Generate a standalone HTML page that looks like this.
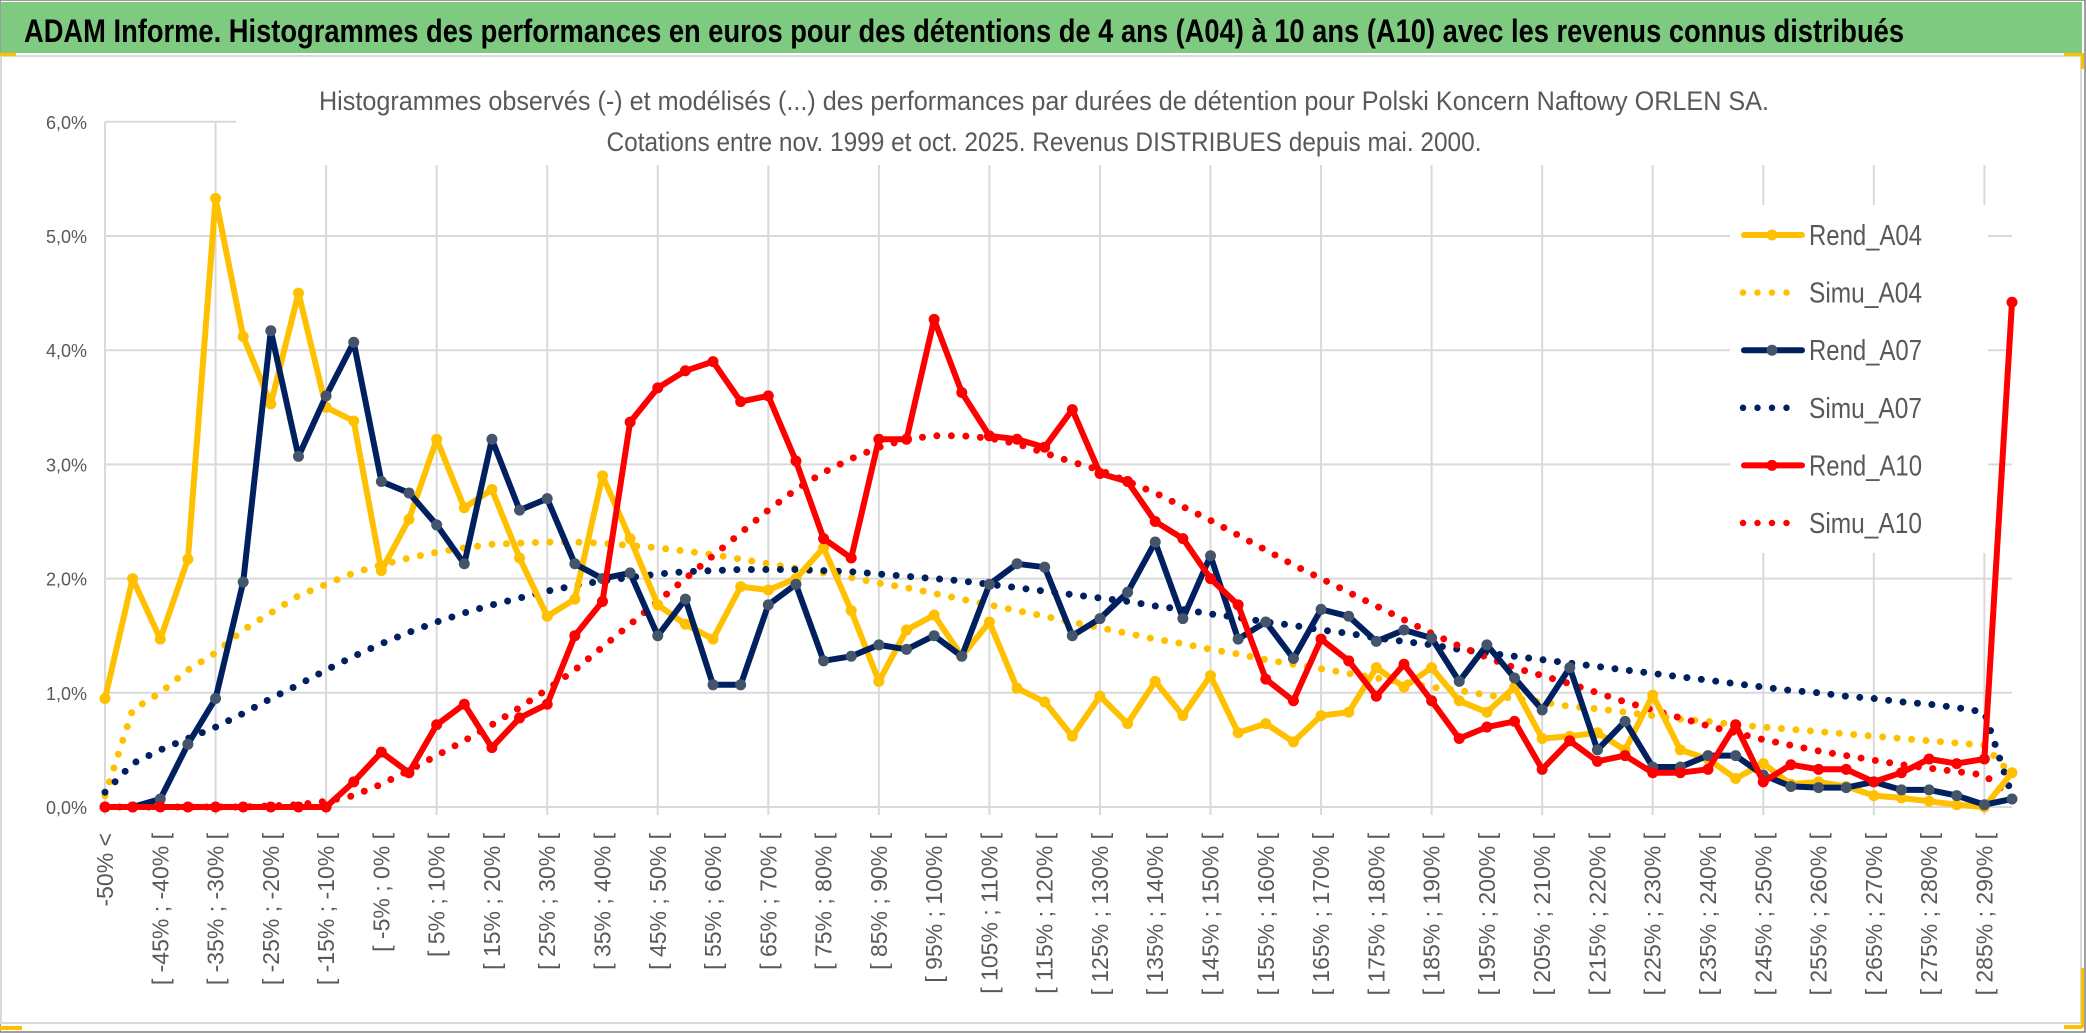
<!DOCTYPE html>
<html><head><meta charset="utf-8">
<style>
html,body{margin:0;padding:0;background:#fff;}
svg{display:block;}
text{font-family:"Liberation Sans Narrow","Liberation Sans",sans-serif;}
</style></head>
<body>
<svg id="chart" width="2086" height="1033" viewBox="0 0 2086 1033" xmlns="http://www.w3.org/2000/svg">
  <rect x="0" y="0" width="2086" height="1033" fill="#fff"/>
  <rect x="0" y="0" width="2085" height="1032" fill="none" stroke="#7f7f7f" stroke-width="1.5"/>
  <rect x="1" y="2" width="2081" height="51" fill="#7ECA80"/>
  <text x="24" y="42" font-size="32" font-weight="bold" fill="#000" textLength="1880" lengthAdjust="spacingAndGlyphs">ADAM Informe. Histogrammes des performances en euros pour des détentions de 4 ans (A04) à 10 ans (A10) avec les revenus connus distribués</text>
  <rect x="1" y="56" width="2080" height="967" fill="none" stroke="#d9d9d9" stroke-width="2"/>
  <rect x="0" y="53" width="16" height="3" fill="#FFC000"/>
  <rect x="2064" y="53" width="18" height="3" fill="#FFC000"/>
  <rect x="2081" y="53" width="3" height="16" fill="#FFC000"/>
  <rect x="2064" y="1025" width="18" height="4" fill="#FFC000"/>
  <rect x="2081" y="968" width="3" height="60" fill="#FFC000"/>
  <rect x="0" y="1026" width="22" height="4" fill="#FFC000"/>
  <g id="grid"></g>
  <rect x="236" y="60" width="1790" height="105" fill="#fff"/>
  <text x="1044" y="110" font-size="27" fill="#595959" text-anchor="middle" textLength="1450" lengthAdjust="spacingAndGlyphs">Histogrammes observés (-) et modélisés (...) des performances par durées de détention pour Polski Koncern Naftowy ORLEN SA.</text>
  <text x="1044" y="151" font-size="27" fill="#595959" text-anchor="middle" textLength="875" lengthAdjust="spacingAndGlyphs">Cotations entre nov. 1999 et oct. 2025. Revenus DISTRIBUES depuis mai. 2000.</text>
  <g id="yaxis"></g>
  <g id="xaxis"></g>
  <g id="series"></g>
  <g id="legend"></g>
</svg>
<script>
const categories = ["-50% <"];
for (let k = 1; k < 70; k++) { const lo = -55 + 5 * k; categories.push("[ " + lo + "% ; " + (lo + 5) + "% ["); }
const yTicks = [0, 1, 2, 3, 4, 5, 6];
const yTickLabels = ["0,0%", "1,0%", "2,0%", "3,0%", "4,0%", "5,0%", "6,0%"];
const rendA04 = [0.95,2.0,1.47,2.17,5.33,4.12,3.53,4.5,3.5,3.38,2.07,2.52,3.22,2.62,2.78,2.18,1.67,1.82,2.9,2.35,1.77,1.6,1.47,1.93,1.9,2.0,2.27,1.72,1.1,1.55,1.68,1.32,1.62,1.04,0.92,0.62,0.97,0.73,1.1,0.8,1.15,0.65,0.73,0.57,0.8,0.83,1.22,1.05,1.22,0.93,0.83,1.05,0.6,0.62,0.65,0.5,0.98,0.5,0.42,0.25,0.38,0.2,0.22,0.18,0.1,0.08,0.05,0.02,0.0,0.3];
const simuA04 = [0.1,0.85,1.0,1.2,1.35,1.55,1.7,1.85,1.95,2.05,2.12,2.18,2.23,2.27,2.3,2.31,2.32,2.32,2.31,2.29,2.27,2.24,2.21,2.17,2.13,2.09,2.05,2.01,1.96,1.92,1.87,1.82,1.77,1.72,1.67,1.62,1.57,1.52,1.47,1.43,1.38,1.34,1.29,1.25,1.21,1.17,1.13,1.09,1.05,1.02,0.98,0.95,0.92,0.88,0.86,0.83,0.8,0.77,0.75,0.72,0.7,0.68,0.66,0.64,0.62,0.6,0.58,0.56,0.54,0.28];
const rendA07 = [0,0,0.07,0.55,0.95,1.97,4.17,3.07,3.6,4.07,2.85,2.75,2.47,2.13,3.22,2.6,2.7,2.13,2.0,2.05,1.5,1.82,1.07,1.07,1.77,1.95,1.28,1.32,1.42,1.38,1.5,1.32,1.95,2.13,2.1,1.5,1.65,1.88,2.32,1.65,2.2,1.47,1.62,1.3,1.73,1.67,1.45,1.55,1.48,1.1,1.42,1.13,0.85,1.22,0.5,0.75,0.35,0.35,0.45,0.45,0.28,0.18,0.17,0.17,0.22,0.15,0.15,0.1,0.02,0.07];
const simuA07 = [0.13,0.38,0.5,0.6,0.7,0.82,0.95,1.07,1.2,1.32,1.43,1.53,1.62,1.7,1.77,1.83,1.89,1.94,1.98,2.01,2.04,2.06,2.07,2.08,2.08,2.08,2.07,2.06,2.04,2.02,2.0,1.98,1.95,1.92,1.89,1.86,1.83,1.8,1.76,1.73,1.69,1.66,1.62,1.59,1.55,1.52,1.48,1.45,1.42,1.38,1.35,1.32,1.29,1.26,1.23,1.2,1.17,1.14,1.11,1.08,1.05,1.02,1.0,0.97,0.95,0.92,0.9,0.87,0.83,0.1];
const rendA10 = [0,0,0,0,0,0,0,0,0,0.22,0.48,0.3,0.72,0.9,0.52,0.78,0.9,1.5,1.8,3.37,3.67,3.82,3.9,3.55,3.6,3.03,2.35,2.18,3.22,3.22,4.27,3.63,3.25,3.22,3.15,3.48,2.92,2.85,2.5,2.35,2.0,1.77,1.12,0.93,1.47,1.28,0.97,1.25,0.93,0.6,0.7,0.75,0.33,0.58,0.4,0.45,0.3,0.3,0.33,0.72,0.22,0.37,0.33,0.33,0.22,0.3,0.42,0.38,0.42,4.42];
const simuA10 = [0,0,0,0,0,0,0.01,0.02,0.05,0.1,0.2,0.32,0.45,0.58,0.72,0.87,1.03,1.2,1.4,1.6,1.8,2.0,2.2,2.4,2.6,2.78,2.93,3.05,3.15,3.22,3.25,3.25,3.23,3.18,3.1,3.02,2.95,2.85,2.75,2.63,2.51,2.38,2.25,2.12,2.0,1.88,1.76,1.64,1.52,1.41,1.31,1.22,1.15,1.08,1.0,0.92,0.85,0.78,0.71,0.65,0.59,0.54,0.49,0.45,0.41,0.37,0.34,0.31,0.28,0.08];
const seriesNames = ["Rend_A04","Simu_A04","Rend_A07","Simu_A07","Rend_A10","Simu_A10"];

const NS = "http://www.w3.org/2000/svg";
const X0 = 105, X1 = 2012, Y0 = 807, PX_PER_PCT = 114.2;
function xPos(k){ return X0 + k * (X1 - X0) / (categories.length - 1); }
function yPos(v){ return Y0 - v * PX_PER_PCT; }
function mk(tag, attrs, parent){ const e = document.createElementNS(NS, tag); for (const a in attrs) e.setAttribute(a, attrs[a]); parent.appendChild(e); return e; }

const grid = document.getElementById("grid");
yTicks.forEach(v => {
  const l = mk("line", {x1: X0, x2: X1, y1: yPos(v), y2: yPos(v), stroke: "#d9d9d9", "stroke-width": 2}, grid);
  
  
});
for (let k = 0; k < categories.length; k += 4) {
  const l = mk("line", {x1: xPos(k), x2: xPos(k), y1: yPos(6), y2: Y0 + 8, stroke: "#d9d9d9", "stroke-width": 2}, grid);
  
  
}

const yaxis = document.getElementById("yaxis");
yTicks.forEach((v, i) => {
  const t = mk("text", {x: 87, y: yPos(v) + 7, "font-size": 18, fill: "#595959", "text-anchor": "end", style: "font-family:'Liberation Sans',sans-serif"}, yaxis);
  t.textContent = yTickLabels[i];
  
  
});

const xaxis = document.getElementById("xaxis");
for (let k = 0; k < categories.length; k += 2) {
  const x = xPos(k) + 8;
  const t = mk("text", {x: x, y: 833, "font-size": 23, fill: "#595959", "text-anchor": "end", transform: "rotate(-90 " + x + " 833)", style: "font-family:'Liberation Sans',sans-serif"}, xaxis);
  t.textContent = categories[k];
  
  
}

const seriesLayer = document.getElementById("series");
function pts(arr){ return arr.map((v, k) => xPos(k).toFixed(1) + "," + yPos(v).toFixed(1)).join(" "); }
function dotted(arr, color, name){
  const p = mk("polyline", {points: pts(arr), fill: "none", stroke: color, "stroke-width": 7, "stroke-linecap": "round", "stroke-dasharray": "0 14.5"}, seriesLayer);
  
  
}
function solid(arr, color, markerFill, name){
  const g = mk("g", {}, seriesLayer);
  
  
  const p = mk("polyline", {points: pts(arr), fill: "none", stroke: color, "stroke-width": 6, "stroke-linejoin": "round"}, g);
  
  
  arr.forEach((v, k) => {
    const c = mk("circle", {cx: xPos(k), cy: yPos(v), r: 5.5, fill: markerFill}, g);
    
    
  });
}
dotted(simuA04, "#FFC000", "simu-a04-line");
dotted(simuA07, "#002060", "simu-a07-line");
dotted(simuA10, "#FF0000", "simu-a10-line");
solid(rendA04, "#FFC000", "#FFC000", "rend-a04");
solid(rendA07, "#002060", "#44546A", "rend-a07");
solid(rendA10, "#FF0000", "#FF0000", "rend-a10");

const legend = document.getElementById("legend");
const bg = mk("rect", {x: 1730, y: 205, width: 258, height: 348, fill: "#fff"}, legend);


const legColors = ["#FFC000","#FFC000","#002060","#002060","#FF0000","#FF0000"];
const legMarker = ["#FFC000",null,"#44546A",null,"#FF0000",null];
seriesNames.forEach((n, i) => {
  const y = 235 + i * 57.6;
  const g = mk("g", {}, legend);
  
  
  if (legMarker[i]) {
    mk("line", {x1: 1744, x2: 1802, y1: y, y2: y, stroke: legColors[i], "stroke-width": 6, "stroke-linecap": "round"}, g);
    mk("circle", {cx: 1772, cy: y, r: 5.5, fill: legMarker[i]}, g);
  } else {
    mk("line", {x1: 1743, x2: 1801, y1: y, y2: y, stroke: legColors[i], "stroke-width": 6.5, "stroke-linecap": "round", "stroke-dasharray": "0 14.5"}, g);
  }
  const t = mk("text", {x: 1809, y: y + 10, "font-size": 29, fill: "#595959", textLength: 113, lengthAdjust: "spacingAndGlyphs"}, g);
  t.textContent = n;
  
  
});
</script>
</body></html>
